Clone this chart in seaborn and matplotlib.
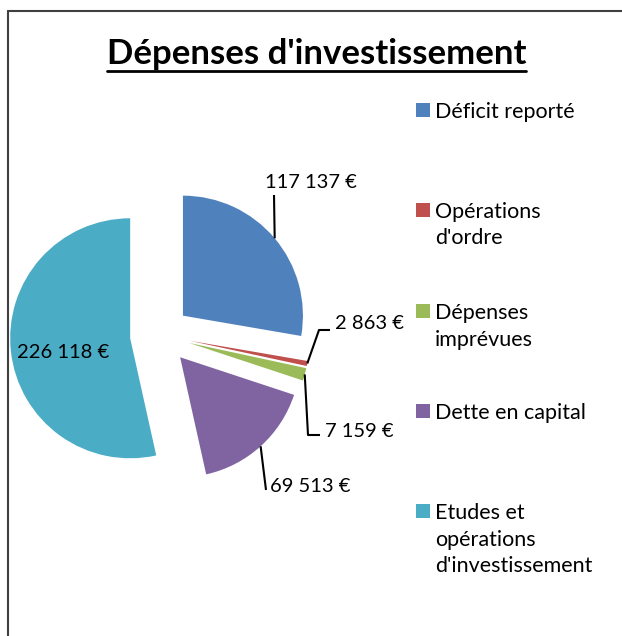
import matplotlib
matplotlib.use("Agg")
import numpy as np
import seaborn as sns
from matplotlib import pyplot as plt
from matplotlib.lines import Line2D
from matplotlib.patches import Rectangle

# data
categories = ["Déficit reporté", "Opérations\nd'ordre", "Dépenses\nimprévues",
              "Dette en capital", "Etudes et\nopérations\nd'investissement"]
values = [117137, 2863, 7159, 69513, 226118]
value_labels = ["117 137 €", "2 863 €", "7 159 €", "69 513 €", "226 118 €"]
colors = sns.color_palette(["#4F81BD", "#C0504D", "#9BBB59", "#8064A2", "#4BACC6"])

sns.set_theme(style="white")
plt.rcParams['font.family'] = ['Lato', 'DejaVu Sans']

W, H = 622, 636
fig = plt.figure(figsize=(W / 100, H / 100), dpi=100)
ax = fig.add_axes([0, 0, 1, 1])


def sy(y):  # screen y (top-down) to data y
    return H - y


wedges, _ = ax.pie(values, colors=colors, startangle=90, counterclock=False,
                   radius=120, center=(160, sy(335)), explode=[30] * len(values),
                   wedgeprops=dict(linewidth=0))
ax.set_xlim(0, W)
ax.set_ylim(0, H)
ax.set_aspect('equal')
ax.axis('off')


def anchor(w):
    t = np.deg2rad((w.theta1 + w.theta2) / 2)
    return w.center[0] + w.r * np.cos(t), w.center[1] + w.r * np.sin(t)


# leader knees (screen coords) and label baselines
knees = [[(274, 195)], [(319, 330), (330, 330)], [(308, 435), (320, 435)], [(266, 490)], None]
label_pos = [(265, 188), (335, 329), (325, 437), (270, 492), (17, 358)]
for w, kn, (lx, ly), txt in zip(wedges, knees, label_pos, value_labels):
    if kn is not None:
        ax0, ay0 = anchor(w)
        xs = [ax0] + [k[0] for k in kn]
        ys = [ay0] + [sy(k[1]) for k in kn]
        ax.plot(xs, ys, color='black', lw=1.5, solid_capstyle='butt')
    ax.text(lx, sy(ly), txt, ha='left', va='baseline', fontsize=14.5, color='black')

# legend drawn by hand so first lines sit evenly spaced
leg_y = [118, 218, 319, 419, 519]
for cat, col, y in zip(categories, colors, leg_y):
    ax.add_patch(Rectangle((416, sy(y) + 1), 14, 14, color=col, lw=0))
    for i, line in enumerate(cat.split('\n')):
        ax.text(435, sy(y + 26.5 * i), line, ha='left', va='baseline',
                fontsize=15.5, color='black')

# title with underline
title = ax.text(316.5, sy(64), "Dépenses d'investissement", ha='center',
                va='baseline', fontsize=25, fontweight='bold', color='black')
fig.canvas.draw()
bb = title.get_window_extent()
ax.plot([bb.x0, bb.x1], [sy(71), sy(71)], color='black', lw=2)

# chart border (only top and left visible)
fig.add_artist(Line2D([8 / W, 1], [1 - 11 / H, 1 - 11 / H], color='#404040', lw=1.5))
fig.add_artist(Line2D([8 / W, 8 / W], [0, 1 - 11 / H], color='#404040', lw=1.5))

fig.savefig('out.png', dpi=100)
